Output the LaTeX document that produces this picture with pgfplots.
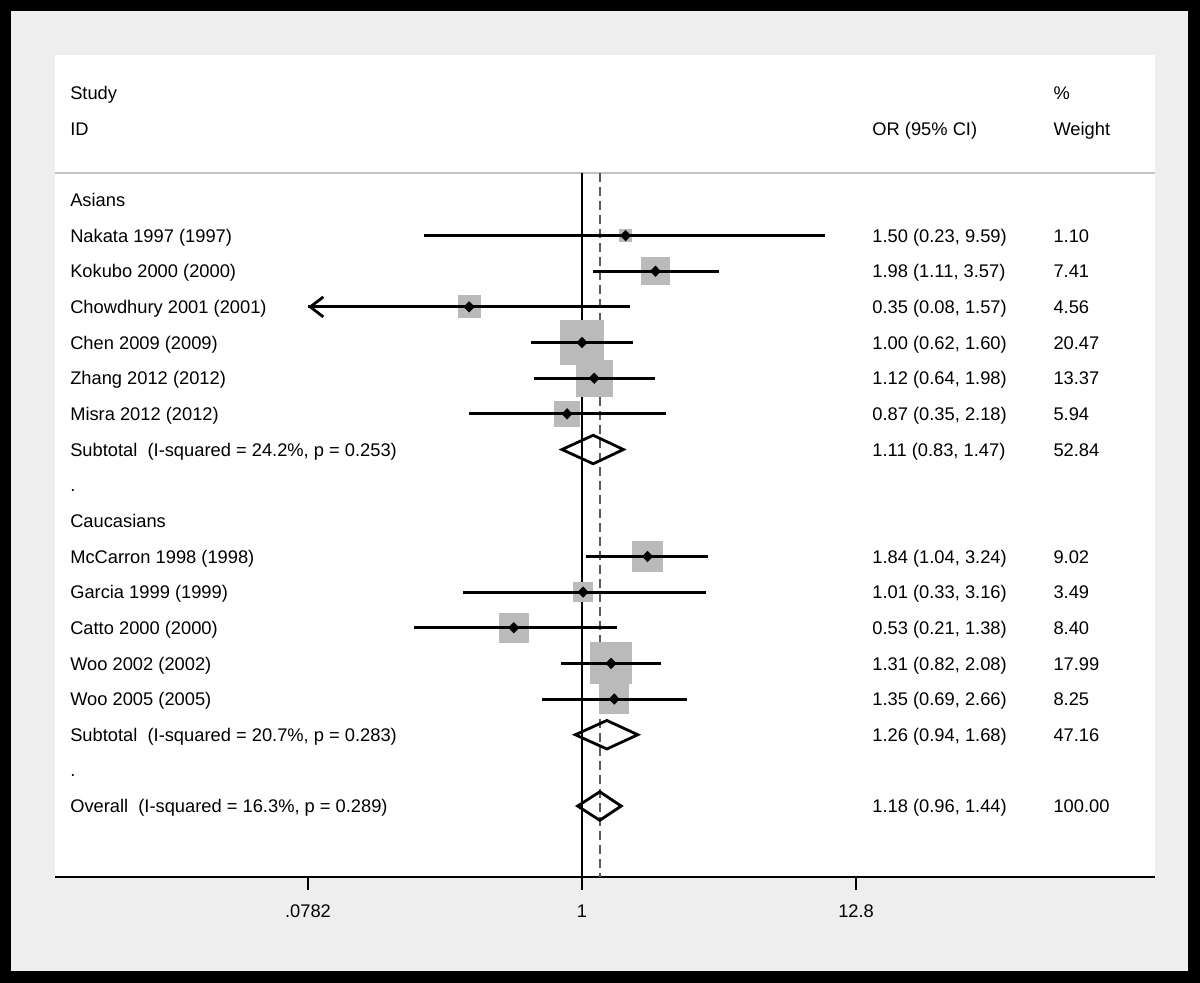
\documentclass[border=0pt]{standalone}
\usepackage{fontspec}
\setmainfont{Liberation Sans}
\usepackage{pgfplots}
\pgfplotsset{compat=1.18}
\usepackage{pgfplotstable}
\usetikzlibrary{arrows.meta}
\definecolor{framegray}{HTML}{EEEEEE}
\definecolor{boxgray}{HTML}{BABABA}
\definecolor{sepgray}{HTML}{C4C4C4}
\definecolor{dashgray}{HTML}{5A5A5A}

% row = line number from top; or, lo, hi as printed; lod = drawn lower end
\pgfplotstableread{
row or lo hi lod w
4 1.50 0.23 9.59 0.23 1.10
5 1.98 1.11 3.57 1.11 7.41
6 0.35 0.08 1.57 0.0782 4.56
7 1.00 0.62 1.60 0.62 20.47
8 1.12 0.64 1.98 0.64 13.37
9 0.87 0.35 2.18 0.35 5.94
13 1.84 1.04 3.24 1.04 9.02
14 1.01 0.33 3.16 0.33 3.49
15 0.53 0.21 1.38 0.21 8.40
16 1.31 0.82 2.08 0.82 17.99
17 1.35 0.69 2.66 0.69 8.25
}\studies

\newcommand\fs{\fontsize{9.15}{11}\selectfont}
\newcommand\lab[2]{\node[anchor=base west, yshift=-3.3pt, inner sep=0pt, font=\fs] at (axis cs:0.008534,-#1) {#2};}
\newcommand\orc[2]{\node[anchor=base west, yshift=-3.3pt, inner sep=0pt, font=\fs] at (axis cs:14.85,-#1) {#2};}
\newcommand\wtc[2]{\node[anchor=base west, yshift=-3.3pt, inner sep=0pt, font=\fs] at (axis cs:80.0,-#1) {#2};}

\begin{document}
\begin{tikzpicture}
\fill[black] (-27.5pt,-53pt) rectangle (572.5pt,438.5pt);
\fill[framegray] (-22pt,-47pt) rectangle (566.5pt,433pt);
\begin{axis}[
  at={(0,0)}, anchor=south west,
  scale only axis, width=550pt, height=411pt,
  xmode=log, xmin=0.007432, xmax=206.4,
  ymin=-21.99, ymax=1.066,
  axis x line*=bottom, axis y line=none,
  axis background/.style={fill=white},
  xtick={0.0782,1,12.8}, xticklabels={.0782,1,12.8},
  minor x tick num=0, xminorticks=false,
  tick align=outside, major tick length=6.5pt,
  x axis line style={line width=0.8pt, -},
  xtick style={line width=0.8pt, black},
  ytick=\empty,
  ticklabel style={font=\fs},
  xticklabel style={yshift=-3.7pt},
  /pgf/number format/assume math mode=true,
  clip=false, clip marker paths=true,
]
% header separator
\addplot[sepgray, line width=1pt, forget plot] coordinates {(0.007432,-2.25) (206.4,-2.25)};
% null line and overall effect line
\addplot[black, line width=0.9pt] coordinates {(1,-2.25) (1,-21.99)};
\addplot[dashgray, line width=0.9pt, dash pattern=on 4.5pt off 2.5pt] coordinates {(1.18,-2.25) (1.18,-21.99)};
% weight boxes (side ~ sqrt of weight)
\addplot[scatter, only marks, mark=square*, point meta=explicit,
  visualization depends on={\thisrow{w} \as \wt},
  scatter/@pre marker code/.code={%
    \pgfmathsetmacro\ms{0.7125+2.25*sqrt(\wt)}%
    \scope[mark size=\ms pt, fill=boxgray, draw=boxgray, line width=0pt]},
  scatter/@post marker code/.code={\endscope}]
  table[x=or, y expr=-\thisrow{row}, meta=w] {\studies};
% confidence intervals and point estimates
\addplot[only marks, mark=diamond*, mark size=2.6pt, black, mark options={line width=0.3pt, xscale=1.3},
  error bars/.cd, x dir=both, x explicit, error mark=none,
  error bar style={line width=1.5pt, black}]
  table[x=or, y expr=-\thisrow{row},
        x error plus expr=\thisrow{hi}-\thisrow{or},
        x error minus expr=\thisrow{or}-\thisrow{lod}] {\studies};
% truncated CI arrow (Chowdhury)
\addplot[black, line width=1.5pt, -{Straight Barb[length=6.5pt, width=10pt, line width=1.4pt]}]
  coordinates {(0.2,-6) (0.0782,-6)};
% pooled diamonds
\addplot[black, line width=1.4pt, line join=miter] coordinates {(0.83,-10) (1.11,-9.6) (1.47,-10) (1.11,-10.4)} -- cycle;
\addplot[black, line width=1.4pt, line join=miter] coordinates {(0.94,-18) (1.26,-17.6) (1.68,-18) (1.26,-18.4)} -- cycle;
\addplot[black, line width=1.4pt, line join=miter] coordinates {(0.96,-20) (1.18,-19.6) (1.44,-20) (1.18,-20.4)} -- cycle;

% text columns
\lab{0}{Study}
\lab{1}{ID}
\orc{1}{OR (95\% CI)}
\wtc{0}{\%}
\wtc{1}{Weight}
\lab{3}{Asians}
\lab{4}{Nakata 1997 (1997)}      \orc{4}{1.50 (0.23, 9.59)}  \wtc{4}{1.10}
\lab{5}{Kokubo 2000 (2000)}      \orc{5}{1.98 (1.11, 3.57)}  \wtc{5}{7.41}
\lab{6}{Chowdhury 2001 (2001)}   \orc{6}{0.35 (0.08, 1.57)}  \wtc{6}{4.56}
\lab{7}{Chen 2009 (2009)}        \orc{7}{1.00 (0.62, 1.60)}  \wtc{7}{20.47}
\lab{8}{Zhang 2012 (2012)}       \orc{8}{1.12 (0.64, 1.98)}  \wtc{8}{13.37}
\lab{9}{Misra 2012 (2012)}       \orc{9}{0.87 (0.35, 2.18)}  \wtc{9}{5.94}
\lab{10}{Subtotal\ \ (I-squared = 24.2\%, p = 0.253)} \orc{10}{1.11 (0.83, 1.47)} \wtc{10}{52.84}
\lab{11}{.}
\lab{12}{Caucasians}
\lab{13}{McCarron 1998 (1998)}   \orc{13}{1.84 (1.04, 3.24)} \wtc{13}{9.02}
\lab{14}{Garcia 1999 (1999)}     \orc{14}{1.01 (0.33, 3.16)} \wtc{14}{3.49}
\lab{15}{Catto 2000 (2000)}      \orc{15}{0.53 (0.21, 1.38)} \wtc{15}{8.40}
\lab{16}{Woo 2002 (2002)}        \orc{16}{1.31 (0.82, 2.08)} \wtc{16}{17.99}
\lab{17}{Woo 2005 (2005)}        \orc{17}{1.35 (0.69, 2.66)} \wtc{17}{8.25}
\lab{18}{Subtotal\ \ (I-squared = 20.7\%, p = 0.283)} \orc{18}{1.26 (0.94, 1.68)} \wtc{18}{47.16}
\lab{19}{.}
\lab{20}{Overall\ \ (I-squared = 16.3\%, p = 0.289)} \orc{20}{1.18 (0.96, 1.44)} \wtc{20}{100.00}
\end{axis}
\end{tikzpicture}
\end{document}
